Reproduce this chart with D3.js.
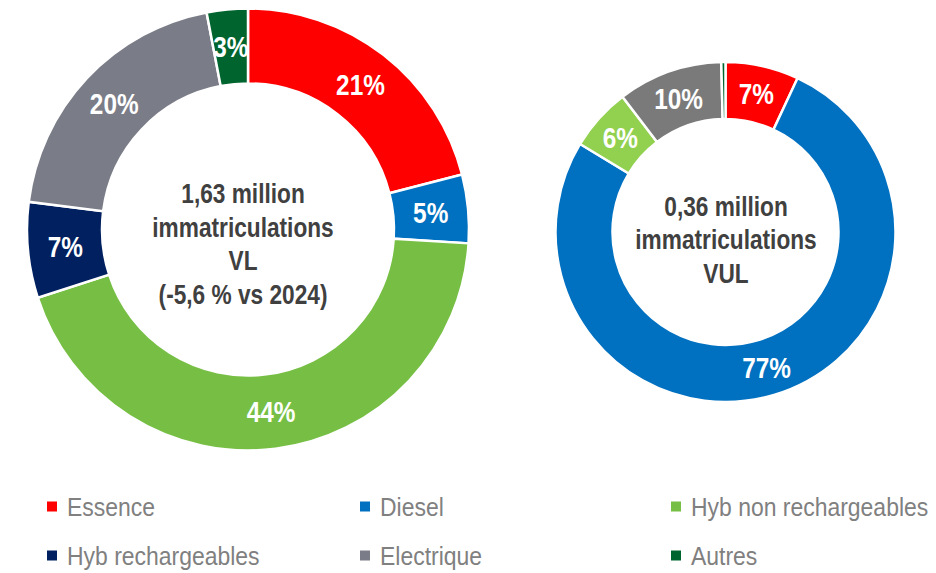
<!DOCTYPE html>
<html>
<head>
<meta charset="utf-8">
<script src="https://cdn.jsdelivr.net/npm/d3@7"></script>
<style>
  html, body { margin: 0; padding: 0; background: #ffffff; }
  svg { display: block; font-family: "Liberation Sans", Arial, sans-serif; }
</style>
</head>
<body>
<svg id="chart" width="936" height="573"></svg>
<script>
// Energy categories, in drawing order (clockwise from 12 o'clock)
const categories = ["Essence", "Diesel", "Hyb non rechargeables", "Hyb rechargeables", "Electrique", "Autres"];

// Share of registrations (%) per category
const vlShares  = [21, 5, 44, 7, 20, 3];
const vulShares = [7, 77, 6, 0, 10, 0.4];

// Centre captions
const vlCaption  = ["1,63 million", "immatriculations", "VL", "(-5,6 % vs 2024)"];
const vulCaption = ["0,36 million", "immatriculations", "VUL"];

// Palettes (the VUL chart uses slightly different greens/greys)
const vlColors  = ["#FF0000", "#0070C0", "#76BF44", "#002060", "#7A7C87", "#00642E"];
const vulColors = ["#FF0000", "#0070C0", "#92D050", "#002060", "#7A7A7A", "#00642E"];
const legendColors = vlColors;

const svg = d3.select("#chart");

// condensed look of the typeface: horizontal squeeze applied to all texts
const NARROW_BOLD = 0.84;
const NARROW_REG = 0.9;

function donut(values, colors, cx, cy, rOuter, rInner, caption, capX, capY, lineH) {
  const g = svg.append("g").attr("transform", `translate(${cx},${cy})`);
  const pie = d3.pie().sort(null).value(d => d.v);
  const arcs = pie(values.map((v, i) => ({ v, i })));
  const arc = d3.arc().innerRadius(rInner).outerRadius(rOuter);
  const labelArc = d3.arc().innerRadius((rInner + rOuter) / 2).outerRadius((rInner + rOuter) / 2);

  g.selectAll("path.slice")
    .data(arcs.filter(a => a.data.v > 0))
    .join("path")
    .attr("class", "slice")
    .attr("d", arc)
    .attr("fill", d => colors[d.data.i])
    .attr("stroke", "#ffffff")
    .attr("stroke-width", 2.5)
    .attr("stroke-linejoin", "miter");

  g.selectAll("text.pct")
    .data(arcs.filter(a => a.data.v >= 1))
    .join("text")
    .attr("class", "pct")
    .attr("transform", d => `translate(${labelArc.centroid(d)}) scale(${NARROW_BOLD},1)`)
    .attr("text-anchor", "middle")
    .attr("dy", "0.36em")
    .attr("fill", "#ffffff")
    .attr("font-weight", "bold")
    .attr("font-size", 29)
    .text(d => `${d.data.v}%`);

  // caption lines: capY is the vertical centre of the first line's capitals
  svg.append("g")
    .selectAll("text")
    .data(caption)
    .join("text")
    .attr("transform", (d, i) => `translate(${capX},${capY + i * lineH}) scale(${NARROW_BOLD},1)`)
    .attr("text-anchor", "middle")
    .attr("dy", "0.36em")
    .attr("fill", "#404040")
    .attr("font-weight", "bold")
    .attr("font-size", 27)
    .text(d => d);
}

donut(vlShares, vlColors, 248, 229.5, 221, 146, vlCaption, 243, 193, 33.8);
donut(vulShares, vulColors, 725.5, 232, 170, 113, vulCaption, 726, 206, 33.5);

// Legend: 3 columns x 2 rows
const colX = d3.scaleOrdinal().domain([0, 1, 2]).range([47, 360, 671]);
const rowY = d3.scaleOrdinal().domain([0, 1]).range([506.5, 555.5]);

const leg = svg.append("g")
  .selectAll("g")
  .data(categories)
  .join("g")
  .attr("transform", (d, i) => `translate(${colX(i % 3)},${rowY(Math.floor(i / 3))})`);

leg.append("rect")
  .attr("x", 0).attr("y", -5)
  .attr("width", 10).attr("height", 10)
  .attr("fill", (d, i) => legendColors[i]);

leg.append("text")
  .attr("transform", `translate(20,0) scale(${NARROW_REG},1)`)
  .attr("dy", "0.36em")
  .attr("fill", "#808080")
  .attr("font-size", 25.5)
  .text(d => d);
</script>
</body>
</html>
